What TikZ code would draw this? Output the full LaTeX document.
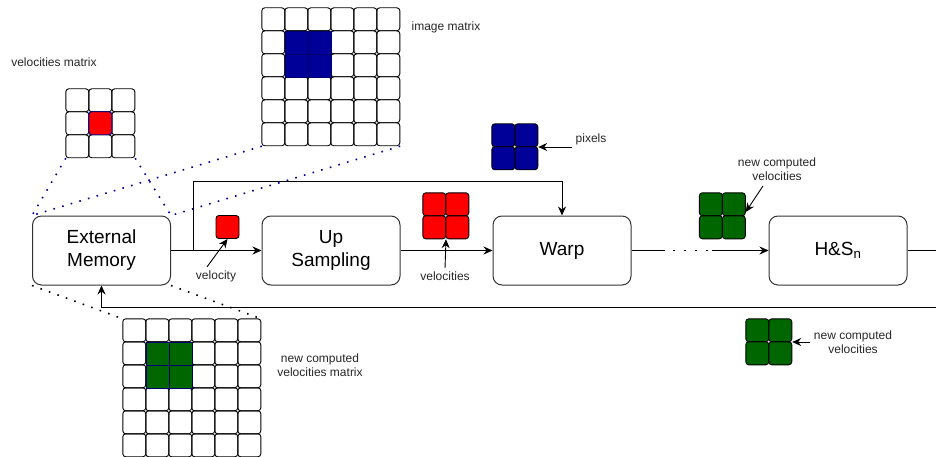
\documentclass[tikz,border=0pt]{standalone}
\usepackage{fontspec}
\setmainfont{Liberation Sans}
\usetikzlibrary{arrows.meta,calc}

\definecolor{pixblue}{HTML}{000099}
\definecolor{velred}{HTML}{FF0000}
\definecolor{newgreen}{HTML}{006600}
\definecolor{edge}{HTML}{333333}

\tikzset{
    block/.style={draw=edge, line width=1pt, rounded corners=9pt, minimum width=138pt,
        minimum height=69pt, align=center, font=\fontsize{19}{23}\selectfont},
    cell/.style={draw=black, line width=0.9pt, rounded corners=3pt},
    cellnode/.style={cell, minimum size=23pt, inner sep=0pt},
    lbl/.style={font=\fontsize{12}{14}\selectfont, text=black!85, align=center},
    flow/.style={-{Stealth[length=9pt,width=8pt,inset=3pt]}, line width=0.9pt},
    wire/.style={line width=0.9pt},
    bluedots/.style={pixblue, line width=1.6pt, dash pattern=on 1.6pt off 7.4pt},
    blackdots/.style={black, line width=1.6pt, dash pattern=on 1.6pt off 7.4pt},
    gapdots/.style={black, line width=1.6pt, dash pattern=on 1.6pt off 9.4pt},
}

\begin{document}
\begin{tikzpicture}[x=1pt, y=-1pt]
    \useasboundingbox (0,0) rectangle (936,457);

    % main blocks
    \node[block] (mem)  at (101.5,250.5) {External\\Memory};
    \node[block] (ups)  at (331,250.5) {Up\\Sampling};
    \node[block] (warp) at (562,250.5) {Warp};
    \node[block] (hs)   at (838,250.5) {H\&S\textsubscript{n}};

    % matrices (frames only, cells drawn below)
    \node[minimum width=69pt, minimum height=69pt, inner sep=0pt] (vm) at (100.5,123.5) {};
    \node[minimum width=138pt, minimum height=138pt, inner sep=0pt] (im) at (331,77) {};
    \node[minimum width=138pt, minimum height=138pt, inner sep=0pt] (nm) at (192,388) {};

    \foreach \c in {0,1,2}
        \foreach \r in {0,1,2}
            \draw[cell] ($(vm.north west)+(23*\c,23*\r)$) rectangle ++(23,23);
    \draw[cell, draw=pixblue, fill=velred] ($(vm.north west)+(23,23)$) rectangle ++(23,23);

    \foreach \c in {0,...,5}
        \foreach \r in {0,...,5} {
            \draw[cell] ($(im.north west)+(23*\c,23*\r)$) rectangle ++(23,23);
            \draw[cell] ($(nm.north west)+(23*\c,23*\r)$) rectangle ++(23,23);
        }
    \foreach \c in {1,2}
        \foreach \r in {1,2} {
            \draw[pixblue!70!black, line width=0.5pt, fill=pixblue] ($(im.north west)+(23*\c,23*\r)$) rectangle ++(23,23);
            \draw[pixblue!70!black, line width=0.5pt, fill=newgreen] ($(nm.north west)+(23*\c,23*\r)$) rectangle ++(23,23);
        }

    \node[lbl] (vmlbl) at (54,62) {velocities matrix};
    \node[lbl] (imlbl) at (446,27) {image matrix};
    \node[lbl] (nmlbl) at (320,365) {new computed\\velocities matrix};

    % zoom lines
    \draw[bluedots] (vm.south west) -- (mem.north west);
    \draw[bluedots] (vm.south east) -- (mem.north east);
    \draw[bluedots] (im.south west) -- (mem.north west);
    \draw[bluedots] (im.south east) -- (mem.north east);
    \draw[blackdots] (mem.south west) -- (nm.north west);
    \draw[blackdots] (mem.south east) -- (nm.north east);

    % small data blocks
    \node[cellnode, fill=velred] (vel) at (227.5,227) {};
    \node[minimum size=46pt, inner sep=0pt] (vels) at (446,216) {};
    \node[minimum size=46pt, inner sep=0pt] (pix) at (515,147) {};
    \node[minimum size=46pt, inner sep=0pt] (ncv) at (722.5,216) {};
    \node[minimum size=46pt, inner sep=0pt] (ncvb) at (769,342) {};
    \foreach \blk/\col in {vels/velred, pix/pixblue, ncv/newgreen, ncvb/newgreen}
        \foreach \c in {0,1}
            \foreach \r in {0,1}
                \draw[cell, fill=\col] ($(\blk.north west)+(23*\c,23*\r)$) rectangle ++(23,23);

    \node[lbl] (vellbl)  at (216,276) {velocity};
    \node[lbl] (velslbl) at (445,276) {velocities};
    \node[lbl] (pixlbl)  at (591,139) {pixels};
    \node[lbl] (ncvlbl)  at (777,169) {new computed\\velocities};
    \node[lbl] (ncvblbl) at (853,342) {new computed\\velocities};

    \draw[flow] ([xshift=-9pt]vellbl.north) -- (vel.south);
    \draw[flow] (velslbl.north) -- (vels.south);
    \draw[flow] (pixlbl.west |- pix.east) -- (pix.east);
    \draw[flow] ([xshift=-14pt,yshift=-2pt]ncvlbl.south) -- ([yshift=4pt]ncv.east);
    \draw[flow] (ncvblbl.west |- ncvb.east) -- (ncvb.east);

    % connectors
    \coordinate (split) at (193,250.5);
    \coordinate (gapA) at (665,250.5);
    \coordinate (gapB) at (712,250.5);
    \coordinate (outR) at (936,250.5);
    \coordinate (backR) at (936,307.5);

    \draw[flow] (mem.east) -- (ups.west);
    \draw[flow] (split) -- ++(0,-69) -| (warp.north);
    \draw[flow] (ups.east) -- (warp.west);
    \draw[wire] (warp.east) -- (gapA);
    \draw[gapdots] ([xshift=8pt]gapA) -- (gapB);
    \draw[flow] (gapB) -- (hs.west);
    \draw[wire] (hs.east) -- (outR);
    \draw[flow] (backR) -| (mem.south);
\end{tikzpicture}
\end{document}
